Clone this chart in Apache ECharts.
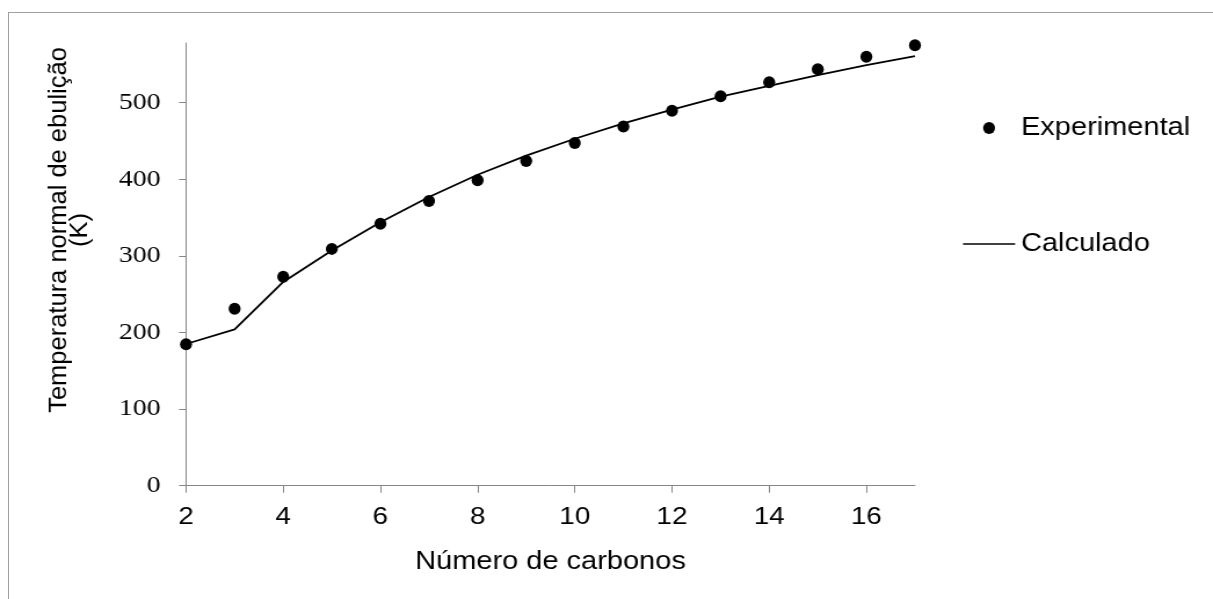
<!DOCTYPE html>
<html>
<head>
<meta charset="utf-8">
<script src="https://cdn.jsdelivr.net/npm/echarts@6/dist/echarts.min.js"></script>
<style>
html,body{margin:0;padding:0;background:#fff;overflow:hidden;width:1213px;height:599px;}
#frame{position:absolute;left:8px;top:12px;width:1400px;height:800px;border-left:1px solid #a0a0a0;border-top:1px solid #a0a0a0;box-sizing:border-box;}
#chart{position:absolute;left:0;top:0;width:1046px;height:599px;transform:scaleX(1.15966);transform-origin:0 0;}
</style>
</head>
<body>
<div id="frame"></div>
<div id="chart"></div>
<script>
// ---- data ----
const carbons = [2, 3, 4, 5, 6, 7, 8, 9, 10, 11, 12, 13, 14, 15, 16, 17];
const experimental = [184.6, 231.1, 272.7, 309.2, 341.9, 371.6, 398.8, 424.0, 447.3, 469.1, 489.5, 508.6, 526.7, 543.8, 560.0, 575.2];
const calculated = [185, 204, 266, 307, 344, 377, 406, 431, 453, 473, 491, 508, 522, 536, 549, 561];
const xTicks = [2, 4, 6, 8, 10, 12, 14, 16];
const yTicks = [0, 100, 200, 300, 400, 500];
const seriesNames = ['Experimental', 'Calculado'];
const xTitle = 'Número de carbonos';
const yTitle = 'Temperatura normal de ebulição\n(K)';

// ---- chart ----
const SX = 1.15966;
const axisColor = '#868686';
const sans = '"Liberation Sans", Arial, sans-serif';
const chart = echarts.init(document.getElementById('chart'), null, {renderer: 'canvas'});
chart.setOption({
  animation: false,
  backgroundColor: 'transparent',
  grid: {left: 160.4, top: 43, width: 628.6, height: 442.7, containLabel: false},
  graphic: [{
    type: 'text',
    x: 69.5 / SX,
    y: 230,
    rotation: Math.PI / 2,
    scaleY: 1 / SX,
    silent: true,
    style: {
      text: yTitle,
      fontFamily: sans,
      fontSize: 25.5,
      fill: '#000',
      align: 'center',
      verticalAlign: 'middle',
      lineHeight: 20
    }
  }],
  legend: {
    orient: 'vertical',
    left: 825.4,
    top: 110,
    itemWidth: 45,
    itemHeight: 12,
    itemGap: 90,
    selectedMode: false,
    textStyle: {fontFamily: sans, fontSize: 25, color: '#000', lineHeight: 26},
    data: [
      {name: seriesNames[0], icon: 'path://M0,6 A5.17,6 0 1 0 10.35,6 A5.17,6 0 1 0 0,6 Z'},
      {name: seriesNames[1], icon: 'path://M0,0 L52,0 L52,2 L0,2 Z'}
    ]
  },
  xAxis: {
    type: 'value',
    min: 2,
    max: 17,
    name: xTitle,
    nameLocation: 'middle',
    nameGap: 64,
    nameTextStyle: {fontFamily: sans, fontSize: 25, color: '#000'},
    axisLine: {show: true, lineStyle: {color: axisColor, width: 1}},
    axisTick: {show: true, length: 7, customValues: xTicks, lineStyle: {color: axisColor, width: 1}},
    axisLabel: {customValues: xTicks, fontFamily: sans, fontSize: 24, color: '#000', margin: 20},
    splitLine: {show: false}
  },
  yAxis: {
    type: 'value',
    min: 0,
    max: 578,
    axisLine: {show: true, lineStyle: {color: axisColor, width: 1}},
    axisTick: {show: true, length: 6, customValues: yTicks, lineStyle: {color: axisColor, width: 1}},
    axisLabel: {customValues: yTicks, fontFamily: '"Liberation Serif", "Times New Roman", serif', fontSize: 24, color: '#000', margin: 22},
    splitLine: {show: false}
  },
  series: [
    {
      name: seriesNames[1],
      type: 'line',
      color: '#000',
      data: carbons.map((c, i) => [c, calculated[i]]),
      symbol: 'none',
      showSymbol: false,
      itemStyle: {color: '#000'},
      lineStyle: {color: '#000', width: 1.8},
      z: 2
    },
    {
      name: seriesNames[0],
      type: 'scatter',
      color: '#000',
      data: carbons.map((c, i) => [c, experimental[i]]),
      symbol: 'circle',
      symbolSize: [12 / SX, 12],
      itemStyle: {color: '#000', opacity: 1},
      z: 3
    }
  ]
});
</script>
</body>
</html>
